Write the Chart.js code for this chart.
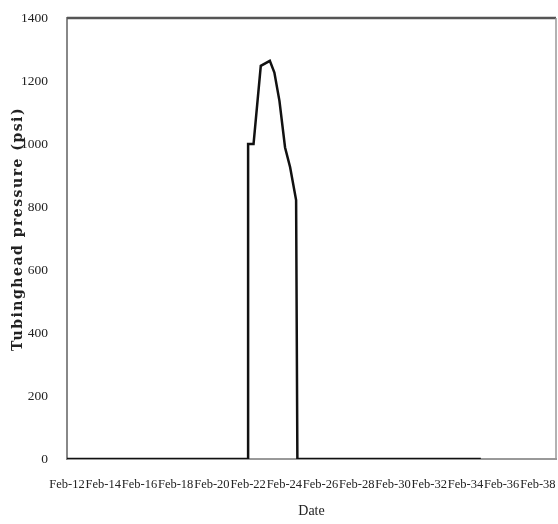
<!DOCTYPE html>
<html>
<head>
<meta charset="UTF-8">
<title>Tubinghead pressure</title>
<script src="https://cdn.jsdelivr.net/npm/chart.js"></script>
<style>
    html, body { margin: 0; padding: 0; background: #fff; }
    #wrap { width: 558px; height: 524px; }
</style>
</head>
<body>
<div id="wrap"><canvas id="pressureChart"></canvas></div>
<script>
    // day of month (February, running past 28 as in the source sheet)
    const days = [12, 22.0, 22.0, 22.3, 22.7, 23.2, 23.45, 23.73, 24.04, 24.32, 24.65, 24.72, 34.85];
    // tubinghead pressure, psi
    const psi  = [0,  0,    1000, 1000, 1248, 1264, 1227,  1137,  989,   926,   822,   0,     0];

    const yTitle = 'Tubinghead pressure (psi)';
    const xTitle = 'Date';

    const points = days.map((d, i) => ({ x: d, y: psi[i] }));

    // frame on top/right + rotated y title with letter spacing
    const framePlugin = {
        id: 'frame',
        afterDraw(chart) {
            const { ctx, chartArea } = chart;
            ctx.save();
            ctx.strokeStyle = '#555';
            ctx.lineWidth = 2.5;
            ctx.beginPath();
            ctx.moveTo(chartArea.left, chartArea.top);
            ctx.lineTo(chartArea.right, chartArea.top);
            ctx.stroke();
            ctx.strokeStyle = '#999';
            ctx.lineWidth = 1.5;
            ctx.beginPath();
            ctx.moveTo(chartArea.right, chartArea.top);
            ctx.lineTo(chartArea.right, chartArea.bottom);
            ctx.stroke();

            ctx.translate(18, 229);
            ctx.rotate(-Math.PI / 2);
            ctx.font = 'bold 14px "DejaVu Serif"';
            ctx.letterSpacing = '1.5px';
            ctx.fillStyle = '#222';
            ctx.textAlign = 'center';
            ctx.textBaseline = 'middle';
            ctx.fillText(yTitle, 0, 0);
            ctx.restore();
        }
    };

    const tickFont = { family: '"Liberation Serif"', size: 12.5 };

    new Chart(document.getElementById('pressureChart'), {
        type: 'line',
        data: {
            datasets: [{
                data: points,
                borderColor: '#111',
                borderWidth: 2.5,
                pointRadius: 0,
                tension: 0,
                fill: false
            }]
        },
        options: {
            responsive: true,
            maintainAspectRatio: false,
            animation: false,
            layout: { padding: { top: 18, right: 2, left: 0, bottom: 0 } },
            plugins: { legend: { display: false }, tooltip: { enabled: false } },
            scales: {
                x: {
                    type: 'linear',
                    min: 12,
                    max: 39,
                    grid: { display: false },
                    border: { color: '#999', width: 2 },
                    ticks: {
                        stepSize: 2,
                        includeBounds: false,
                        autoSkip: false,
                        maxRotation: 0,
                        padding: 10,
                        color: '#222',
                        font: tickFont,
                        callback: v => 'Feb-' + v
                    },
                    title: {
                        display: true,
                        text: xTitle,
                        color: '#222',
                        font: { family: '"Liberation Serif"', size: 14 },
                        padding: { top: 6 }
                    },
                    afterFit(scale) {
                        scale.height = 65;
                        scale.paddingLeft = 0;
                        scale.paddingRight = 0;
                    }
                },
                y: {
                    min: 0,
                    max: 1400,
                    grid: { display: false },
                    border: { color: '#888', width: 2 },
                    ticks: {
                        stepSize: 200,
                        padding: 11,
                        color: '#222',
                        font: { family: '"Liberation Serif"', size: 13.5 },
                        callback: v => String(v)
                    },
                    afterFit(scale) {
                        scale.width = 67;
                        scale.paddingTop = 0;
                        scale.paddingBottom = 0;
                    }
                }
            }
        },
        plugins: [framePlugin]
    });
</script>
</body>
</html>
